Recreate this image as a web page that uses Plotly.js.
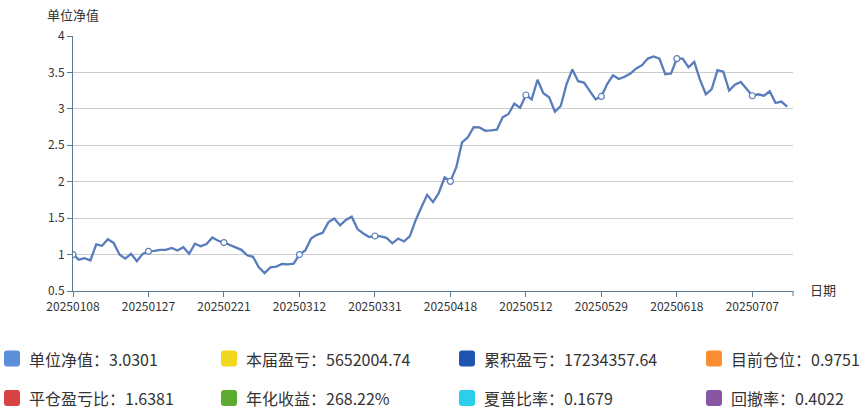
<!DOCTYPE html>
<html>
<head>
<meta charset="utf-8">
<script src="https://cdn.plot.ly/plotly-3.0.1.min.js"></script>
<style>
html,body{margin:0;padding:0;background:#fff;}
#chart{width:865px;height:416px;}
</style>
</head>
<body>
<div id="chart"></div>
<script>
// ---- data ----
const dates = [
 '20250108','20250109','20250110','20250113','20250114','20250115','20250116','20250117','20250120','20250121','20250122','20250123','20250124','20250127',
 '20250205','20250206','20250207','20250210','20250211','20250212','20250213','20250214','20250217','20250218','20250219','20250220','20250221',
 '20250224','20250225','20250226','20250227','20250228',
 '20250303','20250304','20250305','20250306','20250307','20250310','20250311','20250312',
 '20250313','20250314','20250317','20250318','20250319','20250320','20250321','20250324','20250325','20250326','20250327','20250328','20250331',
 '20250401','20250402','20250403','20250407','20250408','20250409','20250410','20250411','20250414','20250415','20250416','20250417','20250418',
 '20250421','20250422','20250423','20250424','20250425','20250428','20250429','20250430',
 '20250506','20250507','20250508','20250509','20250512',
 '20250513','20250514','20250515','20250516','20250519','20250520','20250521','20250522','20250523','20250526','20250527','20250528','20250529',
 '20250530',
 '20250603','20250604','20250605','20250606','20250609','20250610','20250611','20250612','20250613','20250616','20250617','20250618',
 '20250619','20250620','20250623','20250624','20250625','20250626','20250627','20250630',
 '20250701','20250702','20250703','20250704','20250707',
 '20250708','20250709','20250710','20250711','20250714','20250715'
];
const nav = [
 1.00,0.93,0.95,0.92,1.14,1.12,1.21,1.16,1.00,0.945,1.01,0.91,1.01,1.045,
 1.05,1.065,1.065,1.09,1.055,1.10,1.01,1.15,1.115,1.145,1.235,1.19,1.165,
 1.135,1.10,1.065,0.99,0.97,
 0.825,0.745,0.825,0.835,0.87,0.865,0.876,1.00,
 1.055,1.22,1.27,1.30,1.445,1.495,1.40,1.475,1.52,1.35,1.29,1.24,1.255,
 1.25,1.23,1.155,1.22,1.18,1.25,1.47,1.65,1.82,1.72,1.845,2.06,2.005,
 2.195,2.54,2.61,2.75,2.745,2.70,2.705,2.715,
 2.885,2.93,3.07,3.015,3.19,
 3.13,3.40,3.215,3.16,2.96,3.04,3.34,3.54,3.38,3.36,3.25,3.13,3.17,
 3.34,
 3.46,3.41,3.44,3.485,3.555,3.60,3.69,3.72,3.69,3.475,3.485,3.69,
 3.69,3.57,3.645,3.395,3.20,3.27,3.53,3.51,
 3.25,3.33,3.37,3.27,3.18,
 3.20,3.18,3.24,3.08,3.10,3.0301
];
const yTicks = [0.5,1,1.5,2,2.5,3,3.5,4];
const labelStep = 13;
const yName = '单位净值';
const xName = '日期';
const statNames = ['单位净值','本届盈亏','累积盈亏','目前仓位','平仓盈亏比','年化收益','夏普比率','回撤率'];
const statValues = ['3.0301','5652004.74','17234357.64','0.9751','1.6381','268.22%','0.1679','0.4022'];

// ---- style ----
const statColors = ['#5b8fd9','#f2d71f','#1e55b3','#fb8d31','#d84242','#5eab34','#2bcfec','#8956a4'];
const lineColor = '#587cbc';
const axisColor = '#5b7a90';
const font = '"Microsoft YaHei","Noto Sans CJK SC","Noto Sans",sans-serif';

// plot area in pixels
const L = 73, R = 793, T = 36, B = 291, W = 865, H = 416;
const px = x => (x - L) / (R - L);
const py = y => (B - y) / (B - T);

const tickDates = dates.filter((d, i) => i % labelStep === 0);
const markVals = nav.filter((v, i) => i % labelStep === 0);

const traces = [
  {x: dates, y: nav, type: 'scatter', mode: 'lines',
   line: {color: lineColor, width: 2.3}, hoverinfo: 'skip', showlegend: false},
  {x: tickDates, y: markVals, type: 'scatter', mode: 'markers',
   marker: {color: '#ffffff', size: 6, line: {color: lineColor, width: 1.2}},
   hoverinfo: 'skip', showlegend: false}
];

const annotations = [
  {text: yName, xref: 'paper', yref: 'paper', x: px(73), y: py(14), xanchor: 'center', yanchor: 'middle',
   showarrow: false, font: {family: font, size: 13, color: '#333'}},
  {text: xName, xref: 'paper', yref: 'paper', x: px(808), y: py(289), xanchor: 'left', yanchor: 'middle',
   showarrow: false, font: {family: font, size: 13, color: '#333'}}
];
const shapes = [
  {type: 'line', xref: 'paper', yref: 'paper', x0: 1, x1: 1, y0: 0, y1: py(B + 5),
   line: {color: axisColor, width: 1}}
];

function roundSquare(w, h, r) {
  return `M ${r} 0 L ${w - r} 0 Q ${w} 0 ${w} ${-r} L ${w} ${-(h - r)} Q ${w} ${-h} ${w - r} ${-h} L ${r} ${-h} Q 0 ${-h} 0 ${-(h - r)} L 0 ${-r} Q 0 0 ${r} 0 Z`;
}
const colX = [4, 221, 459, 706];
const rowY = [358.5, 398];
statNames.forEach((name, i) => {
  const cx = colX[i % 4], cy = rowY[Math.floor(i / 4)];
  shapes.push({type: 'path', xref: 'paper', yref: 'paper', xsizemode: 'pixel', ysizemode: 'pixel',
    xanchor: px(cx), yanchor: py(cy - 8), path: roundSquare(16, 16, 3),
    fillcolor: statColors[i], line: {width: 0}});
  annotations.push({text: name + '：' + statValues[i], xref: 'paper', yref: 'paper',
    x: px(cx + 23), y: py(cy), xanchor: 'left', yanchor: 'middle', showarrow: false,
    font: {family: font, size: 16, color: '#333'}});
});

const layout = {
  width: W, height: H,
  margin: {l: L, r: W - R, t: T, b: H - B, pad: 0},
  paper_bgcolor: '#fff', plot_bgcolor: '#fff',
  font: {family: font, size: 12, color: '#333'},
  xaxis: {
    type: 'category', range: [0, dates.length], tickmode: 'array', tickvals: tickDates, ticktext: tickDates,
    showgrid: false, zeroline: false, showline: true, linecolor: axisColor, linewidth: 1,
    ticks: 'outside', ticklen: 5, tickcolor: axisColor,
    tickfont: {family: font, size: 12, color: '#333'}, fixedrange: true
  },
  yaxis: {
    range: [0.5, 4], tickmode: 'array', tickvals: yTicks, ticktext: yTicks.map(String),
    showgrid: true, gridcolor: '#cccccc', gridwidth: 1, zeroline: false,
    showline: true, linecolor: axisColor, linewidth: 1,
    ticks: 'outside', ticklen: 5, tickcolor: axisColor, tickfont: {family: font, size: 12, color: '#333'},
    fixedrange: true
  },
  annotations: annotations,
  shapes: shapes,
  showlegend: false,
  hovermode: false
};

Plotly.newPlot('chart', traces, layout, {displayModeBar: false, staticPlot: true});
</script>
</body>
</html>
